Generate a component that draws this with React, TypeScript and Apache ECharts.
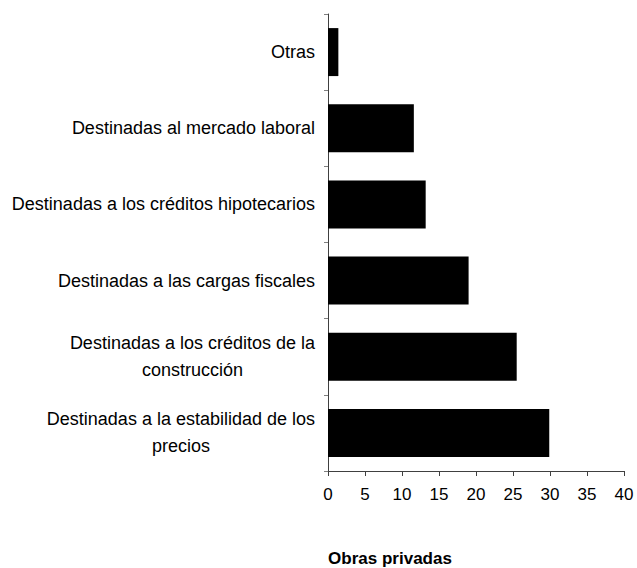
import React, { useEffect, useRef } from "react";
import * as echarts from "echarts";

const categories = [
  "Otras",
  "Destinadas al mercado laboral",
  "Destinadas a los créditos hipotecarios",
  "Destinadas a las cargas fiscales",
  "Destinadas a los créditos de la\nconstrucción",
  "Destinadas a la estabilidad de los\nprecios",
];
const values = [1.4, 11.6, 13.2, 19.0, 25.5, 29.9];
const xTicks = { min: 0, max: 40, interval: 5 };
const titleText = "Obras privadas";

const FONT = "'Liberation Sans', Arial, sans-serif";

export default function App() {
  const ref = useRef<HTMLDivElement>(null);
  useEffect(() => {
    document.body.style.margin = "0";
    if (!ref.current) return;
    const chart = echarts.init(ref.current, null, { renderer: "svg" });
    chart.setOption({
      animation: false,
      backgroundColor: "#ffffff",
      title: {
        text: titleText,
        left: 390,
        top: 549,
        padding: 0,
        textAlign: "center",
        textStyle: { fontFamily: FONT, fontSize: 17, fontWeight: "bold", color: "#000", lineHeight: 18 },
      },
      grid: { left: 328, right: 13, top: 14, bottom: 568 - 471, containLabel: false },
      xAxis: {
        type: "value",
        min: xTicks.min,
        max: xTicks.max,
        interval: xTicks.interval,
        splitLine: { show: false },
        axisLine: { show: true, lineStyle: { color: "#404040", width: 1 } },
        axisTick: { show: true, length: 5, lineStyle: { color: "#404040" } },
        axisLabel: { fontFamily: FONT, fontSize: 17, color: "#000", margin: 15 },
      },
      yAxis: {
        type: "category",
        data: categories,
        inverse: true,
        axisLine: { show: true, lineStyle: { color: "#404040", width: 1 } },
        axisTick: { show: true, length: 4, lineStyle: { color: "#808080" } },
        axisLabel: {
          fontFamily: FONT,
          fontSize: 18,
          color: "#000",
          margin: 13,
          lineHeight: 27,
          formatter: (v: string) =>
            v
              .split("\n")
              .map((l) => `{c|${l}}`)
              .join("\n"),
          rich: {
            c: { align: "center", fontFamily: FONT, fontSize: 18, color: "#000", lineHeight: 27 },
          },
        },
      },
      series: [
        {
          type: "bar",
          data: values,
          barCategoryGap: "37%",
          itemStyle: { color: "#000000" },
        },
      ],
    });
    return () => chart.dispose();
  }, []);
  return <div ref={ref} style={{ width: 637, height: 568 }} />;
}
